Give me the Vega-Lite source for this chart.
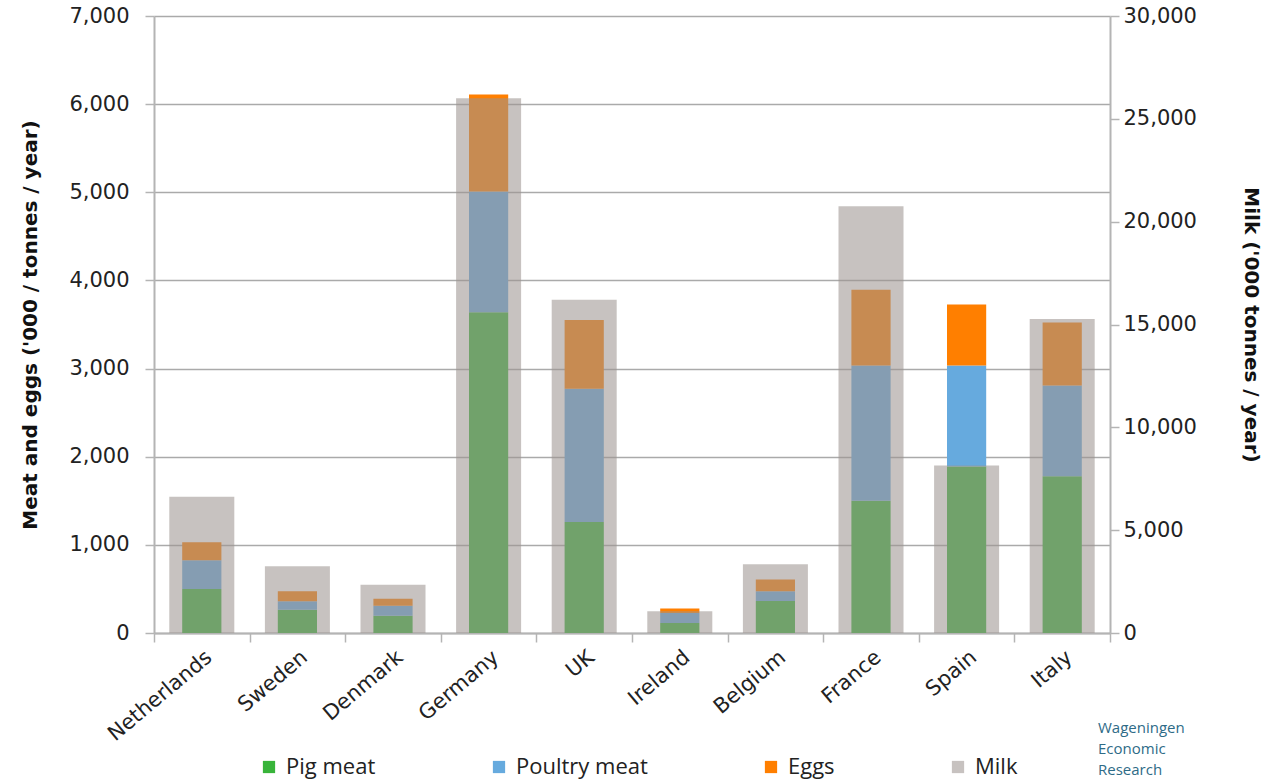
{
  "$schema": "https://vega.github.io/schema/vega-lite/v6.json",
  "width": 956,
  "height": 617,
  "padding": {"left": 20, "top": 5, "right": 5, "bottom": 5},
  "background": "white",
  "config": {
    "view": {"stroke": null},
    "font": "DejaVu Sans",
    "axis": {
      "labelFont": "DejaVu Sans",
      "labelFontSize": 21,
      "labelColor": "#222222",
      "titleFont": "DejaVu Sans",
      "titleFontSize": 20,
      "titleFontWeight": "bold",
      "titleColor": "#111111",
      "domainColor": "#b4b4b4",
      "domainWidth": 2,
      "tickColor": "#b4b4b4",
      "tickWidth": 1.5,
      "tickSize": 9,
      "gridColor": "#aaaaaa",
      "gridWidth": 1.5
    }
  },
  "title": {
    "text": ["Wageningen", "Economic", "Research"],
    "orient": "bottom",
    "anchor": "end",
    "align": "left",
    "frame": "group",
    "font": "Open Sans",
    "fontSize": 15,
    "fontWeight": "normal",
    "color": "#2e6b87",
    "lineHeight": 21,
    "dx": -12,
    "dy": -57,
    "offset": 0
  },
  "data": {
    "values": [
      {"country": "Netherlands", "type": "Pig meat", "value": 500},
      {"country": "Netherlands", "type": "Poultry meat", "value": 325},
      {"country": "Netherlands", "type": "Eggs", "value": 205},
      {"country": "Netherlands", "type": "Milk", "value": 6630},
      {"country": "Sweden", "type": "Pig meat", "value": 265},
      {"country": "Sweden", "type": "Poultry meat", "value": 95},
      {"country": "Sweden", "type": "Eggs", "value": 113},
      {"country": "Sweden", "type": "Milk", "value": 3240},
      {"country": "Denmark", "type": "Pig meat", "value": 196},
      {"country": "Denmark", "type": "Poultry meat", "value": 114},
      {"country": "Denmark", "type": "Eggs", "value": 79},
      {"country": "Denmark", "type": "Milk", "value": 2350},
      {"country": "Germany", "type": "Pig meat", "value": 3640},
      {"country": "Germany", "type": "Poultry meat", "value": 1370},
      {"country": "Germany", "type": "Eggs", "value": 1100},
      {"country": "Germany", "type": "Milk", "value": 26000},
      {"country": "UK", "type": "Pig meat", "value": 1260},
      {"country": "UK", "type": "Poultry meat", "value": 1510},
      {"country": "UK", "type": "Eggs", "value": 780},
      {"country": "UK", "type": "Milk", "value": 16200},
      {"country": "Ireland", "type": "Pig meat", "value": 113},
      {"country": "Ireland", "type": "Poultry meat", "value": 114},
      {"country": "Ireland", "type": "Eggs", "value": 50},
      {"country": "Ireland", "type": "Milk", "value": 1055},
      {"country": "Belgium", "type": "Pig meat", "value": 363},
      {"country": "Belgium", "type": "Poultry meat", "value": 110},
      {"country": "Belgium", "type": "Eggs", "value": 133},
      {"country": "Belgium", "type": "Milk", "value": 3340},
      {"country": "France", "type": "Pig meat", "value": 1500},
      {"country": "France", "type": "Poultry meat", "value": 1535},
      {"country": "France", "type": "Eggs", "value": 860},
      {"country": "France", "type": "Milk", "value": 20750},
      {"country": "Spain", "type": "Pig meat", "value": 1890},
      {"country": "Spain", "type": "Poultry meat", "value": 1146},
      {"country": "Spain", "type": "Eggs", "value": 690},
      {"country": "Spain", "type": "Milk", "value": 8150},
      {"country": "Italy", "type": "Pig meat", "value": 1777},
      {"country": "Italy", "type": "Poultry meat", "value": 1032},
      {"country": "Italy", "type": "Eggs", "value": 715},
      {"country": "Italy", "type": "Milk", "value": 15270}
    ]
  },
  "layer": [
    {
      "transform": [
        {"filter": "datum.type !== 'Milk'"},
        {"calculate": "indexof(['Pig meat','Poultry meat','Eggs'], datum.type)", "as": "o"}
      ],
      "mark": {"type": "bar", "width": {"band": 0.41}},
      "encoding": {
        "x": {
          "field": "country",
          "type": "nominal",
          "sort": ["Netherlands", "Sweden", "Denmark", "Germany", "UK", "Ireland", "Belgium", "France", "Spain", "Italy"],
          "scale": {"paddingInner": 0, "paddingOuter": 0},
          "axis": {
            "title": null,
            "labelAngle": -40,
            "labelFontSize": 21,
            "ticks": true,
            "tickBand": "extent",
            "tickSize": 9,
            "labelPadding": 4,
            "grid": false
          }
        },
        "y": {
          "field": "value",
          "type": "quantitative",
          "stack": "zero",
          "scale": {"domain": [0, 7000], "nice": false},
          "axis": {
            "title": "Meat and eggs ('000 / tonnes / year)",
            "values": [0, 1000, 2000, 3000, 4000, 5000, 6000, 7000],
            "format": ",.0f",
            "grid": true,
            "labelPadding": 16,
            "titlePadding": 28
          }
        },
        "color": {
          "field": "type",
          "type": "nominal",
          "scale": {
            "domain": ["Pig meat", "Poultry meat", "Eggs", "Milk"],
            "range": ["#38b43a", "#66aade", "#ff7f00", "#9c9490"]
          },
          "legend": {
            "orient": "none",
            "legendX": 104,
            "legendY": 740,
            "direction": "horizontal",
            "title": null,
            "symbolType": "square",
            "symbolSize": 150,
            "symbolStrokeWidth": 0,
            "labelFont": "Open Sans",
            "labelFontSize": 22,
            "labelColor": "#222222",
            "columnPadding": 112,
            "labelOffset": 6,
            "padding": 0,
            "encode": {
              "symbols": {
                "update": {
                  "opacity": {"signal": "datum.value === 'Milk' ? 0.57 : 1"}
                }
              }
            }
          }
        },
        "order": {"field": "o", "type": "quantitative"}
      }
    },
    {
      "transform": [{"filter": "datum.type === 'Milk'"}],
      "mark": {"type": "bar", "width": {"band": 0.68}, "opacity": 0.57},
      "encoding": {
        "x": {
          "field": "country",
          "type": "nominal",
          "sort": ["Netherlands", "Sweden", "Denmark", "Germany", "UK", "Ireland", "Belgium", "France", "Spain", "Italy"]
        },
        "y": {
          "field": "value",
          "type": "quantitative",
          "scale": {"domain": [0, 30000], "nice": false},
          "axis": {
            "orient": "right",
            "title": "Milk ('000 tonnes / year)",
            "values": [0, 5000, 10000, 15000, 20000, 25000, 30000],
            "format": ",.0f",
            "grid": false,
            "labelPadding": 4,
            "titlePadding": 44
          }
        },
        "color": {"field": "type", "type": "nominal"}
      }
    }
  ],
  "resolve": {"scale": {"y": "independent"}}
}
